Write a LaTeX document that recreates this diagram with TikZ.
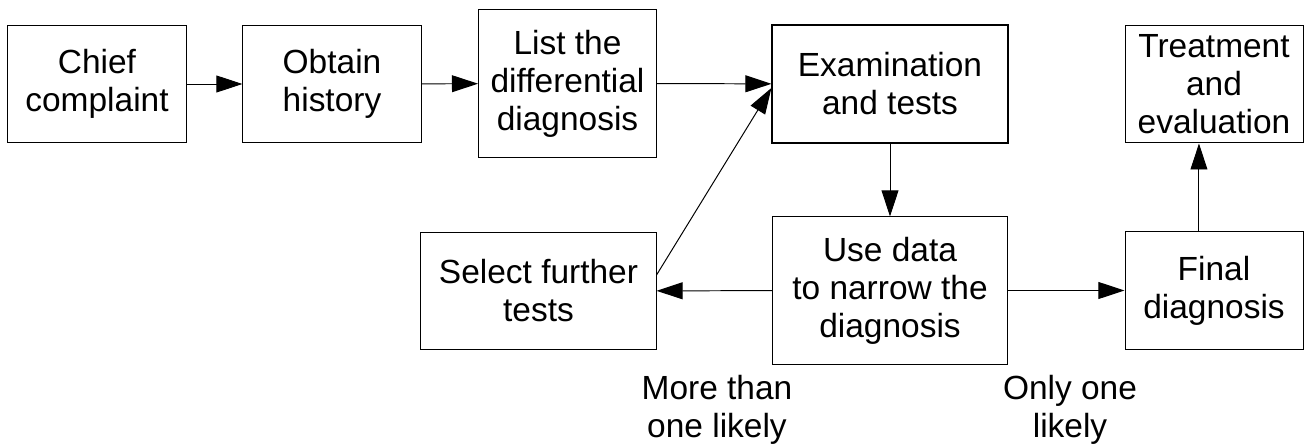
\documentclass[tikz,border=0pt]{standalone}
\usepackage{fontspec}
\setmainfont{Liberation Sans}
\usetikzlibrary{arrows.meta}
\begin{document}
\begin{tikzpicture}[x=0.025cm,y=-0.025cm]
		\tikzset{box/.style = {shape=rectangle,draw,line width=.7pt,align=center,inner sep=0pt,minimum width=126.6pt,minimum height=83.9pt,font=\fontsize{23.8}{27}\selectfont}}
		\tikzset{wide/.style = {minimum width=167.2pt}}
		\tikzset{tall/.style = {minimum height=104.6pt}}
		\tikzset{note/.style = {align=center,inner sep=0pt,font=\fontsize{23.8}{27}\selectfont}}
		\tikzset{flow/.style = {->,> = {Triangle[length=18.5pt,width=12pt]},line width=.7pt}}
		\useasboundingbox (0,0) rectangle (1308,446);
		% top row
		\node[box] (chief) at (97,84) {Chief\\complaint};
		\node[box] (obtain) at (332,84) {Obtain\\history};
		\node[box,tall] (list) at (567.5,83.5) {List the\\differential\\diagnosis};
		\node[box,wide,line width=1.4pt] (exam) at (890,84) {Examination\\and tests};
		\node[box] (treat) at (1214,84) {Treatment\\and\\evaluation};
		% bottom row
		\node[box,wide] (select) at (538.5,291) {Select further\\tests};
		\node[box,wide,tall] (use) at (890,290.5) {Use data\\to narrow the\\diagnosis};
		\node[box] (final) at (1214,290.5) {Final\\diagnosis};
		\node[note] (many) at (717,410) {More than\\one likely};
		\node[note] (one) at (1070,410) {Only one\\likely};
		\path[flow,draw] (chief) edge (obtain);
		\path[flow,draw] (obtain) edge (list);
		\path[flow,draw] (list) edge (exam);
		\path[flow,draw] (exam) edge (use);
		\path[flow,draw] (use) edge (select);
		\path[flow,draw] (use) edge (final);
		% loop back and the last step up
		\draw[flow] ([yshift=11.4pt]select.east) -- ([yshift=-2.8pt]exam.west);
		\draw[flow] ([xshift=-10.7pt]final.north) -- ([xshift=-10.7pt]treat.south);
	\end{tikzpicture}
\end{document}
